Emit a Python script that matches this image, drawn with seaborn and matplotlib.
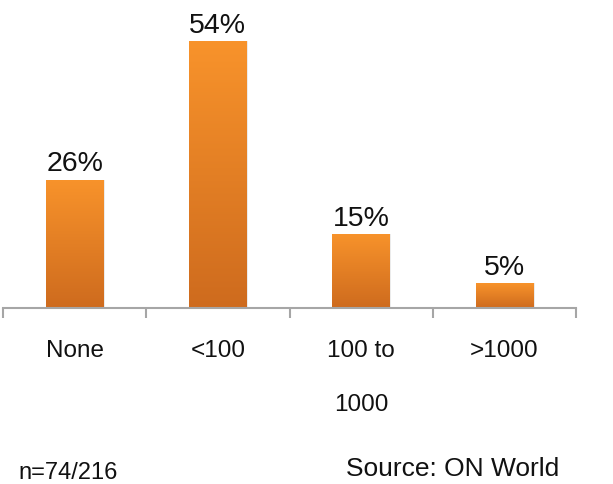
import matplotlib
matplotlib.use("Agg")
import matplotlib.pyplot as plt
import seaborn as sns
import numpy as np
import pandas as pd
from matplotlib.colors import LinearSegmentedColormap

categories = ["None", "<100", "100 to\n1000", ">1000"]
values = [26, 54, 15, 5]
value_labels = ["26%", "54%", "15%", "5%"]
note_left = "n=74/216"
note_right = "Source: ON World"

sns.set_theme(style="white")
plt.rcParams['font.family'] = ['Liberation Sans', 'DejaVu Sans']

df = pd.DataFrame({"cat": categories, "val": values})

fig = plt.figure(figsize=(6.13, 4.84), dpi=100)
ax = fig.add_axes([3/613, (484-308)/484, (576-3)/613, 308/484])
sns.barplot(data=df, x="cat", y="val", color="#F08A28", width=0.40, ax=ax,
            saturation=1, edgecolor="none")

ax.set_xlim(-0.5, len(categories) - 0.5)
ax.set_ylim(0, 308/4.94)

# gradient fill on each bar
cmap = LinearSegmentedColormap.from_list("g", ["#CE6B1E", "#F8932B"])
grad = np.linspace(0, 1, 256).reshape(-1, 1)
for p in ax.patches:
    x0, y0 = p.get_x(), p.get_y()
    w, h = p.get_width(), p.get_height()
    sh = plt.Rectangle((x0 + 0.012, y0), w, h, facecolor="#000000", alpha=0.08,
                       edgecolor="none", zorder=1.5)
    ax.add_patch(sh)
    im = ax.imshow(grad, extent=[x0, x0 + w, y0, y0 + h], origin="lower",
                   cmap=cmap, aspect="auto", zorder=2)
    im.set_clip_path(p)
    p.set_zorder(2)

for i, (v, lab) in enumerate(zip(values, value_labels)):
    ax.annotate(lab, (i, v), xytext=(0, 1.5), textcoords="offset points",
                ha="center", va="bottom", fontsize=20.5, color="#111111")

for s in ["top", "right", "left"]:
    ax.spines[s].set_visible(False)
ax.spines["bottom"].set_color("#A6A6A6")
ax.spines["bottom"].set_linewidth(1.5)

ax.set_yticks([])
ax.set_xticks(np.arange(-0.5, len(categories), 1.0))
ax.set_xticklabels([])
ax.tick_params(axis="x", which="major", direction="out", length=7.5,
               width=1.5, color="#A6A6A6", bottom=True)
ax.set_xticks(np.arange(len(categories)), minor=True)
ax.set_xticklabels(categories, minor=True, fontsize=17.5, color="#111111",
                   linespacing=2.9, va="top")
ax.tick_params(axis="x", which="minor", length=0, pad=23)
ax.set_xlabel("")
ax.set_ylabel("")

fig.text(18/613, 1 - 479/484, note_left, fontsize=17, color="#111111",
         ha="left", va="baseline")
fig.text(346/613, 1 - 476/484, note_right, fontsize=19, color="#111111",
         ha="left", va="baseline")

fig.savefig("out.png", dpi=100, facecolor="white")
